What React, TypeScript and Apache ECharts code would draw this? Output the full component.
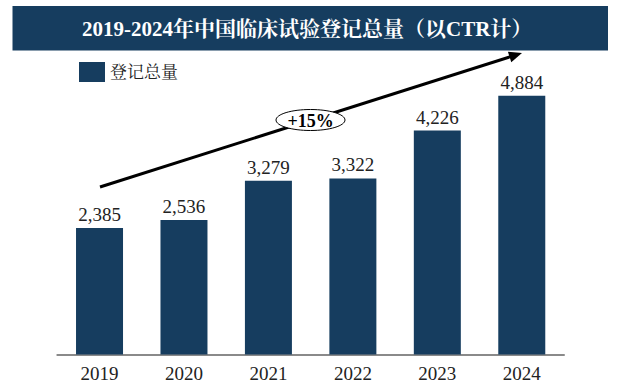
import React, { useEffect, useRef } from "react";
import * as echarts from "echarts";

const categories = ["2019", "2020", "2021", "2022", "2023", "2024"];
const registrations = [2385, 2536, 3279, 3322, 4226, 4884];
const seriesName = "登记总量";
const titleText = "2019-2024年中国临床试验登记总量（以CTR计）";
const growthLabel = "+15%";

const SERIF = "'Times New Roman', 'Liberation Serif', 'Noto Serif CJK SC', 'Noto Sans CJK SC', serif";
const NAVY = "#163d5f";

export default function App() {
  const ref = useRef<HTMLDivElement>(null);
  useEffect(() => {
    if (!ref.current) return;
    const chart = echarts.init(ref.current, null, { renderer: "svg" });
    // arrow geometry
    const sx = 100, sy = 187, tx = 522, ty = 53;
    const dx = tx - sx, dy = ty - sy;
    const len = Math.sqrt(dx * dx + dy * dy);
    const ux = dx / len, uy = dy / len;
    const hl = 13, hw = 5.5;
    const bx = tx - ux * hl, by = ty - uy * hl;
    const px = -uy, py = ux;
    chart.setOption({
      animation: false,
      backgroundColor: "#ffffff",
      title: {
        text: titleText,
        left: 82,
        top: 18,
        padding: 0,
        textStyle: {
          color: "#ffffff",
          fontFamily: SERIF,
          fontWeight: "bold",
          fontSize: 21,
          lineHeight: 21,
        },
        z: 10,
      },
      legend: {
        data: [{ name: seriesName, icon: "rect" }],
        left: 79,
        top: 62,
        padding: 0,
        itemWidth: 26,
        itemHeight: 20,
        itemGap: 6,
        textStyle: { fontFamily: SERIF, fontSize: 17, color: "#222" },
      },
      grid: { left: 57.3, right: 55, top: 89.5, bottom: 28.5, containLabel: false },
      xAxis: {
        type: "category",
        data: categories,
        axisLine: { lineStyle: { color: "#8a8a8a", width: 2 } },
        axisTick: { show: false },
        axisLabel: { fontFamily: SERIF, fontSize: 19, color: "#222", margin: 9 },
      },
      yAxis: {
        type: "value",
        min: 0,
        max: 5000,
        show: false,
        splitLine: { show: false },
      },
      series: [
        {
          name: seriesName,
          type: "bar",
          data: registrations,
          barWidth: 47,
          itemStyle: { color: NAVY },
          label: {
            show: true,
            position: "top",
            distance: 4,
            fontFamily: SERIF,
            fontSize: 19,
            color: "#222",
            formatter: (p: any) => Number(p.value).toLocaleString("en-US"),
          },
        },
      ],
      graphic: [
        {
          type: "rect",
          shape: { x: 12.5, y: 6, width: 595.5, height: 44.5 },
          style: { fill: "#163d5f" },
          z: 0,
        },
        {
          type: "line",
          shape: { x1: sx, y1: sy, x2: bx + ux * 1, y2: by + uy * 1 },
          style: { stroke: "#000", lineWidth: 3 },
          z: 20,
        },
        {
          type: "polygon",
          shape: {
            points: [
              [tx, ty],
              [bx + px * hw, by + py * hw],
              [bx - px * hw, by - py * hw],
            ],
          },
          style: { fill: "#000" },
          z: 20,
        },
        {
          type: "ellipse",
          shape: { cx: 310.5, cy: 120, rx: 34.5, ry: 10.5 },
          style: { fill: "#ffffff", stroke: "#000", lineWidth: 1 },
          z: 21,
        },
        {
          type: "text",
          x: 310.5,
          y: 120.5,
          style: {
            text: growthLabel,
            fontFamily: SERIF,
            fontWeight: "bold",
            fontSize: 18,
            fill: "#000",
            align: "center",
            verticalAlign: "middle",
          },
          z: 22,
        },
      ],
    });
    return () => chart.dispose();
  }, []);
  return <div ref={ref} style={{ width: 619, height: 383, position: "absolute", left: 0, top: 0 }} />;
}
